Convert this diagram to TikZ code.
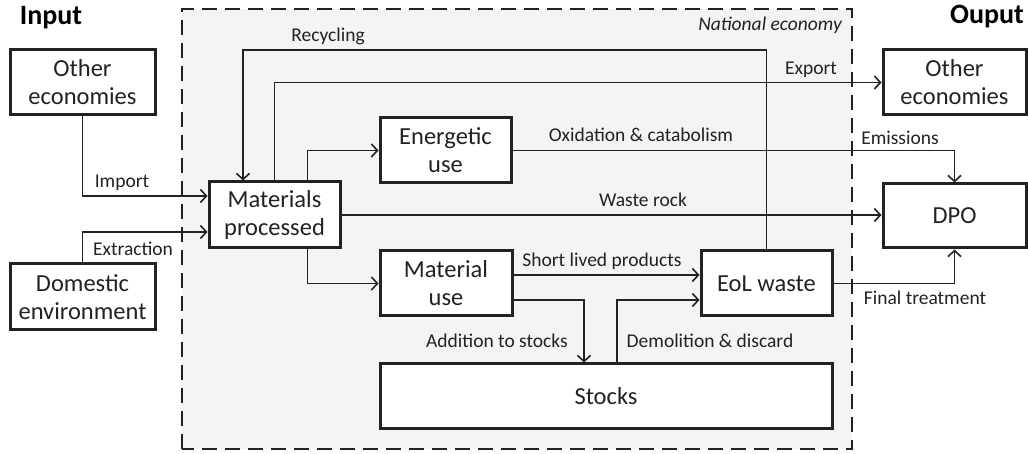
\documentclass[tikz,border=0pt]{standalone}
\usepackage{fontspec}
\setmainfont{Carlito}
\usetikzlibrary{arrows.meta}
\definecolor{inkgray}{HTML}{222222}
\definecolor{econfill}{HTML}{F4F4F4}
\tikzset{
    box/.style ={
        rectangle,
        draw=inkgray,
        fill=white,
        line width=3pt,
        align=center,
        inner sep=2pt,
        text=inkgray,
        font=\fontsize{24.5}{28}\selectfont
    },
    flowlabel/.style ={
        text=inkgray,
        inner sep=0pt,
        font=\fontsize{19.5}{22}\selectfont
    },
    flow/.style ={
        draw=inkgray,
        line width=1.6pt,
        ->
    },
    >={Straight Barb[length=6pt,width=13pt,line width=1.6pt]}
}

\begin{document}
\begin{tikzpicture}[x=1pt,y=1pt]
        \useasboundingbox (0,0) rectangle (1028,454);
        % national economy frame
        \draw[draw=inkgray,fill=econfill,line width=2.7pt,dash pattern=on 15pt off 8pt] (182,5) rectangle (852,445);
        \node[flowlabel,font=\fontsize{19.5}{22}\selectfont\itshape] (NATECO) at (770,429) {National economy};
        \node[flowlabel,font=\fontsize{28}{30}\selectfont\bfseries,text=black] (INPUT) at (51,436) {Input};
        \node[flowlabel,font=\fontsize{28}{30}\selectfont\bfseries,text=black] (OUTPUT) at (987,437) {Ouput};

        % boxes
        \node[box,minimum width=145pt,minimum height=65pt] (OTHERIN) at (82.5,371.5) {Other\\economies};
        \node[box,minimum width=145pt,minimum height=66pt] (DOMESTIC) at (82.5,157) {Domestic\\environment};
        \node[box,minimum width=131pt,minimum height=66pt] (PROCESSED) at (274.5,239) {Materials\\processed};
        \node[box,minimum width=131pt,minimum height=65pt] (ENERGETIC) at (445.5,303.5) {Energetic\\use};
        \node[box,minimum width=132pt,minimum height=65pt] (MATUSE) at (446,170.5) {Material\\use};
        \node[box,minimum width=452pt,minimum height=65pt] (STOCKS) at (606,57.5) {Stocks};
        \node[box,minimum width=131pt,minimum height=65pt] (EOL) at (766.5,170.5) {EoL waste};
        \node[box,minimum width=143pt,minimum height=65pt] (OTHEROUT) at (954.5,371.5) {Other\\economies};
        \node[box,minimum width=143pt,minimum height=64pt] (DPO) at (954.5,238) {DPO};

        % flows
        \draw[flow] (OTHERIN.south) |- ([yshift=19pt]PROCESSED.west);
        \draw[flow] (DOMESTIC.north) |- ([yshift=-17pt]PROCESSED.west);
        \draw[flow] (EOL.north) |- (243,404) -- ([xshift=-31.5pt]PROCESSED.north);
        \draw[flow] (PROCESSED.north) |- (OTHEROUT.west);
        \draw[flow] ([xshift=33pt]PROCESSED.north) |- (ENERGETIC.west);
        \draw[flow] ([xshift=33pt]PROCESSED.south) |- (MATUSE.west);
        \draw[flow] (PROCESSED.east) -- (PROCESSED.east -| DPO.west);
        \draw[flow] (ENERGETIC.east) -| (DPO.north);
        \draw[flow] ([yshift=8.5pt]MATUSE.east) -- ([yshift=8.5pt]EOL.west);
        \draw[flow] ([yshift=-16.5pt]MATUSE.east) -| ([xshift=-22pt]STOCKS.north);
        \draw[flow] ([xshift=11pt]STOCKS.north) |- ([yshift=-16.5pt]EOL.west);
        \draw[flow] (EOL.east) -| (DPO.south);

        % flow labels
        \node[flowlabel] (IMPORT) at (122,271) {Import};
        \node[flowlabel] (EXTRACT) at (133,205) {Extraction};
        \node[flowlabel] (RECYCLE) at (328,418) {Recycling};
        \node[flowlabel] (EXPORT) at (811,384) {Export};
        \node[flowlabel] (OXID) at (641,319) {Oxidation \& catabolism};
        \node[flowlabel] (EMIT) at (900,316) {Emissions};
        \node[flowlabel] (WASTEROCK) at (643,254) {Waste rock};
        \node[flowlabel] (SHORTLIVED) at (602,193) {Short lived products};
        \node[flowlabel] (ADDSTOCK) at (497,113) {Addition to stocks};
        \node[flowlabel] (DEMOLISH) at (710,113) {Demolition \& discard};
        \node[flowlabel] (FINAL) at (925,156) {Final treatment};
    \end{tikzpicture}
\end{document}
